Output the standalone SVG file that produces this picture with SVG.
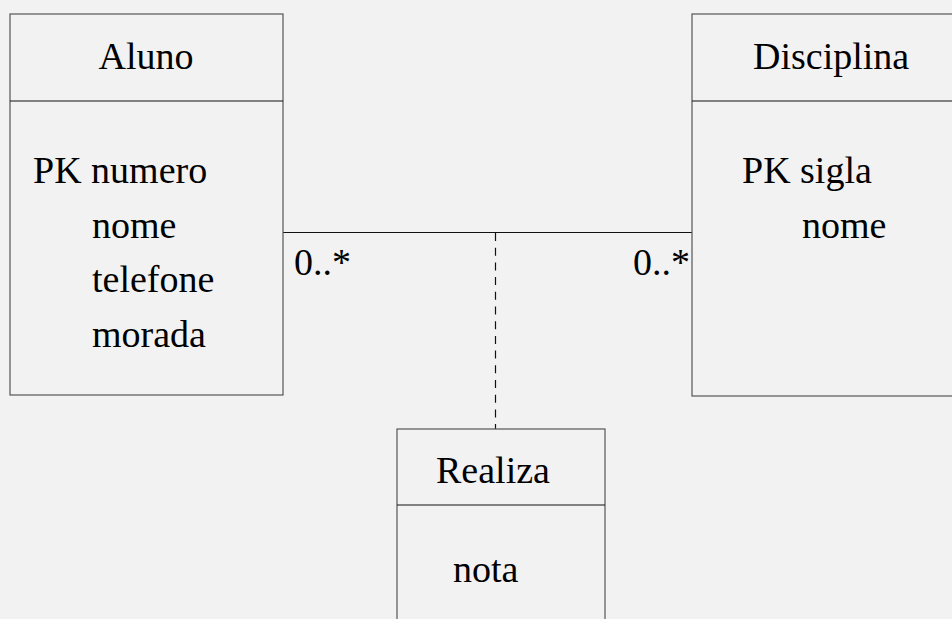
<svg xmlns="http://www.w3.org/2000/svg" width="952" height="619" viewBox="0 0 952 619">
<style>
.box{fill:#f2f2f2;stroke:#555;stroke-width:1.2}
.div{stroke:#111;stroke-width:1.2}
.t{font-family:"Liberation Serif","Times New Roman",serif;font-size:38px;fill:#000}
.c{text-anchor:middle}
.edge{stroke:#111;stroke-width:1.2;fill:none}
.dash{stroke-dasharray:8 6.7}
</style>
<rect x="0" y="0" width="952" height="619" fill="#f2f2f2"/>
<g id="connectors">
<line class="edge" x1="283" y1="232.5" x2="692" y2="232.5"/>
<line class="edge dash" x1="495.5" y1="233" x2="495.5" y2="429"/>
<text class="t" x="294" y="275">0..*</text>
<text class="t" x="633" y="275">0..*</text>
</g>
<g id="aluno">
<rect class="box" x="10" y="14" width="273" height="381"/>
<line class="div" x1="10" y1="101" x2="283" y2="101"/>
<text class="t c" x="146" y="69">Aluno</text>
<text class="t" x="33" y="183">PK numero</text>
<text class="t" x="92" y="237.5">nome</text>
<text class="t" x="92" y="291.5">telefone</text>
<text class="t" x="92" y="346.5">morada</text>
</g>
<g id="disciplina">
<rect class="box" x="692" y="14" width="270" height="382"/>
<line class="div" x1="692" y1="101" x2="952" y2="101"/>
<text class="t" x="753" y="69">Disciplina</text>
<text class="t" x="742" y="183">PK sigla</text>
<text class="t" x="802" y="237.5">nome</text>
</g>
<g id="realiza">
<rect class="box" x="397" y="429" width="208" height="200"/>
<line class="div" x1="397" y1="505" x2="605" y2="505"/>
<text class="t" x="436" y="483">Realiza</text>
<text class="t" x="453" y="582">nota</text>
</g>
</svg>
